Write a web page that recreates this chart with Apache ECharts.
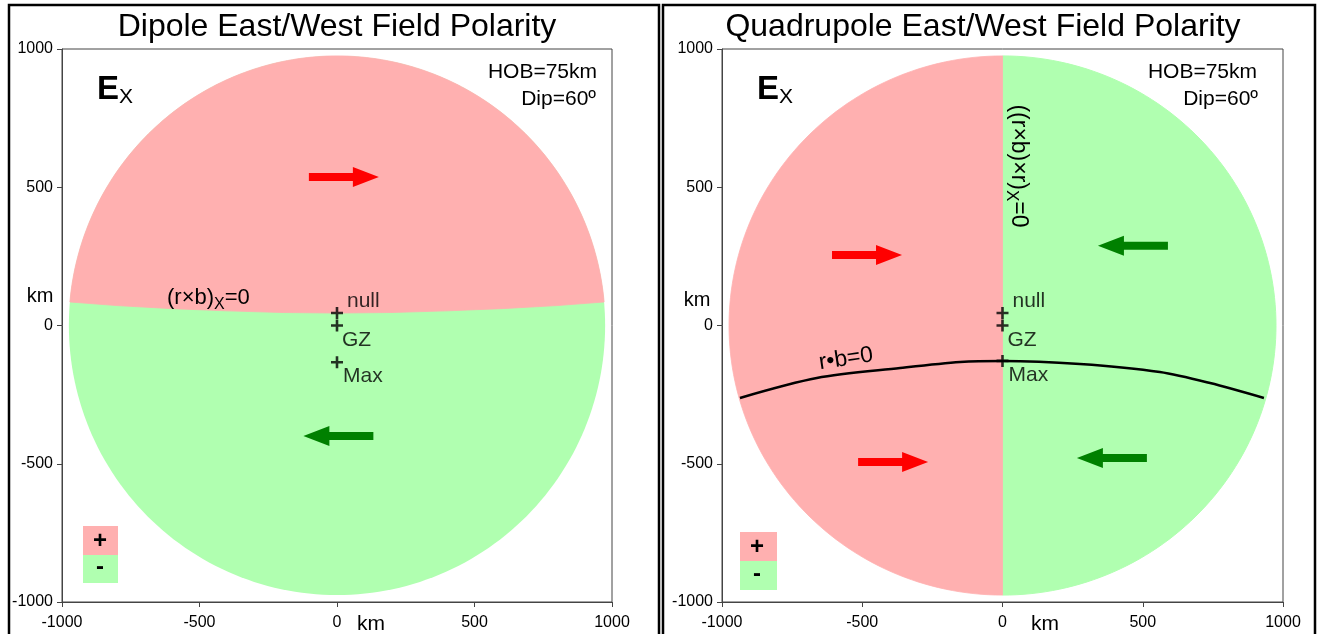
<!DOCTYPE html>
<html>
<head>
<meta charset="utf-8">
<script src="https://cdn.jsdelivr.net/npm/echarts@6/dist/echarts.min.js"></script>
<style>
html,body{margin:0;padding:0;background:#fff}
#main{width:1320px;height:634px}
</style>
</head>
<body>
<div id="main"></div>
<script>
// horizon radius for HOB=75km (km)
var R = 975;
var axisTicks = [-1000, -500, 0, 500, 1000];

// dipole: boundary between + (north) and - (south) regions, (r x b)x = 0
var dipoleBx = [-971, -800, -600, -400, -200, 0, 200, 400, 600, 800, 971];
var dipoleBy = [85, 72, 61, 53, 47, 45, 47, 53, 61, 72, 85];

// quadrupole: r.b = 0 curve
var quadCx = [-936, -662, -365, -151, 0, 276, 561, 740, 932];
var quadCy = [-262, -190, -154, -132, -128, -139, -168, -208, -262];

// arrows (centre points, km)
var dipoleEast = [[25, 537]];
var dipoleWest = [[5, -400]];
var quadEast = [[-483, 255], [-390, -494]];
var quadWest = [[465, 288], [390, -479]];

// markers
var markNames = ['null', 'GZ', 'Max'];
var dipoleMarks = [[0, 45], [0, 0], [0, -133]];
var quadMarks = [[0, 45], [0, 0], [0, -128]];

var PINK = '#ffb0b0', GREEN = '#b0ffb0';
var FONT = 'Arial, "Liberation Sans", sans-serif';

var arrowRight = 'path://M0,6 H44 V0 L70,10 L44,20 V14 H0 Z';
var arrowLeft = 'path://M70,6 H26 V0 L0,10 L26,20 V14 H70 Z';
var plus = 'path://M4.7,0 H7.3 V4.7 H12 V7.3 H7.3 V12 H4.7 V7.3 H0 V4.7 H4.7 Z';

function circlePts(api, a0, a1, n) {
	var pts = [];
	for (var i = 0; i <= n; i++) {
		var a = a0 + (a1 - a0) * i / n;
		pts.push(api.coord([R * Math.cos(a), R * Math.sin(a)]));
	}
	return pts;
}

function xAx(gi) {
	return {
		type: 'value', gridIndex: gi, min: -1000, max: 1000, interval: 500,
		axisLine: {onZero: false, lineStyle: {color: '#444', width: 1}},
		axisTick: {length: 5, lineStyle: {color: '#444'}},
		axisLabel: {color: '#000', fontSize: 16, margin: 13, fontFamily: FONT,
			formatter: function (v) { return String(v); }},
		splitLine: {show: false}
	};
}
function yAx(gi) {
	var a = xAx(gi);
	a.axisLabel.margin = 9;
	return a;
}

function markSeries(gi, pts) {
	var offs = [[4, -12], [-1, 15], [0, 14]];
	return {
		type: 'scatter', xAxisIndex: gi, yAxisIndex: gi, z: 5,
		symbol: plus, symbolSize: 12, itemStyle: {color: '#000'},
		data: pts.map(function (p, i) {
			return {value: p, name: markNames[i],
				label: {show: true, position: 'right', distance: 0, offset: offs[i],
					formatter: '{b}', color: '#000', fontSize: 21, fontFamily: FONT}};
		}),
		silent: true
	};
}

function arrowSeries(gi, pts, sym, col) {
	return {
		type: 'scatter', xAxisIndex: gi, yAxisIndex: gi, z: 4,
		symbol: sym, symbolSize: [70, 20], itemStyle: {color: col, opacity: 1},
		data: pts, silent: true
	};
}

var subRich = {
	a: {fontSize: 22, fontFamily: FONT, color: '#000', lineHeight: 30, verticalAlign: 'middle'},
	s: {fontSize: 16, fontFamily: FONT, color: '#000', lineHeight: 15, verticalAlign: 'bottom'}
};
var vertRich = {
	a: {fontSize: 23, fontFamily: FONT, color: '#000', lineHeight: 30, verticalAlign: 'middle'},
	s: {fontSize: 17, fontFamily: FONT, color: '#000', lineHeight: 15, verticalAlign: 'bottom'}
};
var exRich = {
	e: {fontSize: 33, fontWeight: 'bold', fontFamily: FONT, color: '#000', lineHeight: 36, verticalAlign: 'middle'},
	s: {fontSize: 21, fontFamily: FONT, color: '#000', lineHeight: 20, verticalAlign: 'bottom'}
};

function txt(x, y, s, size, align, extra) {
	var o = {type: 'text', x: x, y: y, z: 100,
		style: {text: s, fontSize: size, fontFamily: FONT, fill: '#000',
			align: align || 'center', verticalAlign: 'middle'}};
	if (extra) { for (var k in extra) o[k] = extra[k]; }
	return o;
}
function boldTxt(x, y, s) {
	return {type: 'text', x: x, y: y, z: 100,
		style: {text: s, fontSize: 24, fontWeight: 'bold', fontFamily: FONT, fill: '#000', align: 'center', verticalAlign: 'middle'}};
}

var graphics = [
	{type: 'rect', shape: {x: 9, y: 5, width: 650, height: 650}, style: {fill: 'none', stroke: '#000', lineWidth: 2.5}, z: 100},
	{type: 'rect', shape: {x: 663, y: 5, width: 652, height: 650}, style: {fill: 'none', stroke: '#000', lineWidth: 2.5}, z: 100},
	txt(337, 27, 'Dipole East/West Field Polarity', 32),
	txt(983, 27, 'Quadrupole East/West Field Polarity', 32),
	{type: 'text', x: 97, y: 90, z: 100, style: {text: '{e|E}{s|X}', rich: exRich, verticalAlign: 'middle'}},
	{type: 'text', x: 757, y: 90, z: 100, style: {text: '{e|E}{s|X}', rich: exRich, verticalAlign: 'middle'}},
	txt(597, 72, 'HOB=75km', 21, 'right'),
	txt(596, 99, 'Dip=60º', 21, 'right'),
	txt(1257, 72, 'HOB=75km', 21, 'right'),
	txt(1258, 99, 'Dip=60º', 21, 'right'),
	txt(40, 296, 'km', 20),
	txt(697, 300, 'km', 20),
	txt(371, 624, 'km', 21),
	txt(1045, 624, 'km', 21),
	{type: 'text', x: 167, y: 298, z: 100, style: {text: '{a|(r×b)}{s|X}{a|=0}', rich: subRich, verticalAlign: 'middle'}},
	{type: 'text', x: 1018, y: 166, z: 100, rotation: -Math.PI / 2,
		style: {text: '{a|((r×b)×r)}{s|X}{a|=0}', rich: vertRich, align: 'center', verticalAlign: 'middle'}},
	txt(846, 359, 'r•b=0', 23, 'center', {rotation: 0.15}),
	// polarity key
	{type: 'rect', shape: {x: 83, y: 526, width: 35, height: 29}, style: {fill: PINK}, z: 90},
	{type: 'rect', shape: {x: 83, y: 555, width: 35, height: 28}, style: {fill: GREEN}, z: 90},
	boldTxt(100, 541, '+'),
	boldTxt(100, 567, '-'),
	{type: 'rect', shape: {x: 740, y: 532, width: 37, height: 29}, style: {fill: PINK}, z: 90},
	{type: 'rect', shape: {x: 740, y: 561, width: 37, height: 29}, style: {fill: GREEN}, z: 90},
	boldTxt(757, 547, '+'),
	boldTxt(757, 574, '-')
];

var dom = document.getElementById('main');
var myChart = echarts.init(dom);
var option = {
	backgroundColor: '#fff',
	animation: false,
	grid: [
		{left: 62, top: 49, width: 550, height: 553, show: true, borderColor: '#444', borderWidth: 1, outerBoundsMode: 'none'},
		{left: 722, top: 49, width: 561, height: 553, show: true, borderColor: '#444', borderWidth: 1, outerBoundsMode: 'none'}
	],
	xAxis: [xAx(0), xAx(1)],
	yAxis: [yAx(0), yAx(1)],
	graphic: graphics,
	series: [
		{
			type: 'custom', xAxisIndex: 0, yAxisIndex: 0, z: 1, silent: true,
			data: [[0, 0]],
			renderItem: function (params, api) {
				var n = dipoleBx.length - 1;
				var edge = dipoleBx.map(function (x, i) { return api.coord([x, dipoleBy[i]]); });
				var aR = Math.atan2(dipoleBy[n], dipoleBx[n]);
				var aL = Math.atan2(dipoleBy[0], dipoleBx[0]);
				return {type: 'group', children: [
					{type: 'polygon', shape: {points: circlePts(api, 0, 2 * Math.PI, 240)}, style: {fill: GREEN}},
					{type: 'polygon', shape: {points: edge.concat(circlePts(api, aR, aL, 160))}, style: {fill: PINK, stroke: PINK, lineWidth: 0.8}}
				]};
			}
		},
		{
			type: 'custom', xAxisIndex: 1, yAxisIndex: 1, z: 1, silent: true,
			data: [[0, 0]],
			renderItem: function (params, api) {
				return {type: 'group', children: [
					{type: 'polygon', shape: {points: circlePts(api, -Math.PI / 2, Math.PI / 2, 120)}, style: {fill: GREEN, stroke: GREEN, lineWidth: 1}},
					{type: 'polygon', shape: {points: circlePts(api, Math.PI / 2, 3 * Math.PI / 2, 120)}, style: {fill: PINK, stroke: PINK, lineWidth: 0.8}}
				]};
			}
		},
		{
			type: 'line', xAxisIndex: 1, yAxisIndex: 1, z: 3, silent: true,
			data: quadCx.map(function (x, i) { return [x, quadCy[i]]; }),
			showSymbol: false, smooth: 0.3,
			lineStyle: {color: '#000', width: 2.5}
		},
		arrowSeries(0, dipoleEast, arrowRight, '#ff0000'),
		arrowSeries(0, dipoleWest, arrowLeft, '#008000'),
		arrowSeries(1, quadEast, arrowRight, '#ff0000'),
		arrowSeries(1, quadWest, arrowLeft, '#008000'),
		markSeries(0, dipoleMarks),
		markSeries(1, quadMarks)
	]
};

if (option && typeof option === "object") {
	myChart.setOption(option, true);
}
</script>
</body>
</html>
